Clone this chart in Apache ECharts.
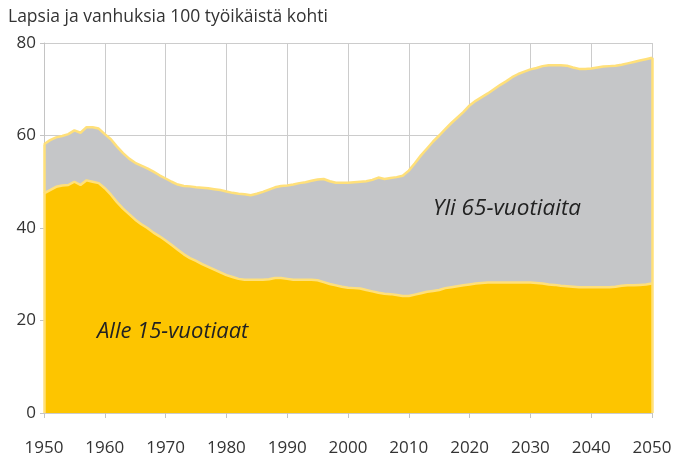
<!DOCTYPE html>
<html>
<head>
<meta charset="utf-8">
<script src="https://cdn.jsdelivr.net/npm/echarts@6/dist/echarts.min.js"></script>
<style>
  html, body { margin: 0; padding: 0; background: #fff; }
  #chart { width: 676px; height: 464px; }
</style>
</head>
<body>
<div id="chart"></div>
<script>
// vuodet 1950-2050
let years = [];
for (let y = 1950; y <= 2050; y++) years.push(y);

// lapsia + vanhuksia yhteensä 100 työikäistä kohti
let total = [
    58.1, 59.0, 59.6, 59.9, 60.3, 61.1, 60.6, 61.8, 61.8, 61.5,
    60.3, 59.2, 57.6, 56.2, 55.0, 54.1, 53.5, 52.9, 52.2, 51.4,
    50.7, 50.0, 49.4, 49.1, 49.0, 48.8, 48.7, 48.6, 48.4, 48.2,
    47.9, 47.6, 47.4, 47.3, 47.1, 47.4, 47.8, 48.3, 48.8, 49.1,
    49.2, 49.4, 49.7, 49.9, 50.2, 50.5, 50.6, 50.1, 49.8, 49.8,
    49.8, 49.9, 50.0, 50.1, 50.4, 50.9, 50.6, 50.8, 51.0, 51.3,
    52.4, 54.0, 55.7, 57.2, 58.7, 60.0, 61.4, 62.7, 63.9, 65.1,
    66.5, 67.5, 68.3, 69.1, 70.0, 70.9, 71.7, 72.6, 73.3, 73.8,
    74.3, 74.6, 75.0, 75.2, 75.2, 75.2, 75.1, 74.7, 74.4, 74.4,
    74.5, 74.7, 74.9, 75.0, 75.1, 75.3, 75.6, 75.9, 76.2, 76.5,
    76.8
];

// alle 15-vuotiaat 100 työikäistä kohti
let under15 = [
    47.5, 48.2, 48.9, 49.2, 49.3, 50.0, 49.3, 50.3, 50.0, 49.7,
    48.6, 47.2, 45.6, 44.2, 43.0, 41.8, 40.8, 40.0, 39.0, 38.2,
    37.3, 36.3, 35.3, 34.3, 33.5, 32.9, 32.2, 31.6, 31.0, 30.4,
    29.8, 29.4, 29.0, 28.8, 28.8, 28.8, 28.8, 28.9, 29.2, 29.2,
    29.0, 28.8, 28.8, 28.8, 28.8, 28.7, 28.3, 27.9, 27.6, 27.3,
    27.1, 27.0, 26.9, 26.6, 26.3, 26.0, 25.8, 25.7, 25.5, 25.3,
    25.3, 25.6, 25.9, 26.2, 26.4, 26.6, 27.0, 27.2, 27.4, 27.6,
    27.8, 28.0, 28.1, 28.2, 28.2, 28.2, 28.2, 28.2, 28.2, 28.2,
    28.2, 28.1, 28.0, 27.8, 27.7, 27.5, 27.4, 27.3, 27.2, 27.2,
    27.2, 27.2, 27.2, 27.2, 27.3, 27.5, 27.6, 27.6, 27.7, 27.8,
    28.0
];

let yTicks = [0, 20, 40, 60, 80];
let halfDecades = [1955, 1965, 1975, 1985, 1995, 2005, 2015, 2025, 2035, 2045];

let chartDom = document.getElementById('chart');
let myChart = echarts.init(chartDom, null, { renderer: 'canvas' });

let font = "'Open Sans', 'Noto Sans', sans-serif";
let edgeYellow = '#ffe07a';

let option = {
    animation: false,
    title: {
        text: 'Lapsia ja vanhuksia 100 työikäistä kohti',
        left: 3,
        top: 3,
        textStyle: {
            fontFamily: font,
            fontSize: 17.5,
            fontWeight: 'normal',
            color: '#333'
        }
    },
    grid: { left: 44, right: 24, top: 43, bottom: 51 },
    xAxis: [
        {
            type: 'value',
            min: 1950,
            max: 2050,
            interval: 10,
            axisLine: { show: false },
            axisTick: { show: true, length: 5, lineStyle: { color: '#c4c4c4' } },
            axisLabel: {
                margin: 27,
                fontFamily: font,
                fontSize: 17,
                color: '#333',
                formatter: function (v) { return String(v); }
            },
            splitLine: { show: true, lineStyle: { color: '#cccccc', width: 1 } }
        },
        {
            type: 'value',
            min: 1950,
            max: 2050,
            position: 'bottom',
            axisLine: { show: false },
            axisLabel: { show: false },
            splitLine: { show: false },
            axisTick: {
                show: true,
                inside: true,
                length: 6,
                customValues: halfDecades,
                lineStyle: { color: '#e6d9a6' }
            }
        }
    ],
    yAxis: {
        type: 'value',
        min: yTicks[0],
        max: yTicks[yTicks.length - 1],
        interval: 20,
        axisLine: { show: true, lineStyle: { color: '#c4c4c4' } },
        axisTick: { show: true, length: 4, lineStyle: { color: '#c4c4c4' } },
        axisLabel: {
            margin: 8,
            fontFamily: font,
            fontSize: 17,
            color: '#333'
        },
        splitLine: { show: true, lineStyle: { color: '#cccccc', width: 1 } }
    },
    series: [
        {
            name: 'Yli 65-vuotiaita',
            type: 'line',
            data: years.map((y, i) => [y, total[i]]),
            symbol: 'none',
            lineStyle: { color: edgeYellow, width: 2.5 },
            areaStyle: { color: '#c5c6c8', opacity: 1 },
            z: 2,
            markLine: {
                silent: true,
                symbol: 'none',
                label: { show: false },
                lineStyle: { color: edgeYellow, width: 2.5, type: 'solid' },
                data: [
                    [{ coord: [years[0], 0] }, { coord: [years[0], total[0]] }],
                    [{ coord: [years[years.length - 1], 0] }, { coord: [years[years.length - 1], total[total.length - 1]] }]
                ]
            }
        },
        {
            name: 'Alle 15-vuotiaat',
            type: 'line',
            data: years.map((y, i) => [y, under15[i]]),
            symbol: 'none',
            lineStyle: { color: edgeYellow, width: 2.5 },
            areaStyle: { color: '#fdc500', opacity: 1 },
            z: 3
        }
    ],
    graphic: [
        {
            type: 'text',
            left: 433,
            top: 197,
            z: 10,
            style: {
                text: 'Yli 65-vuotiaita',
                fontFamily: font,
                fontSize: 22.5,
                fontStyle: 'italic',
                fill: '#222'
            }
        },
        {
            type: 'text',
            left: 97,
            top: 321,
            z: 10,
            style: {
                text: 'Alle 15-vuotiaat',
                fontFamily: font,
                fontSize: 22,
                fontStyle: 'italic',
                fill: '#222'
            }
        }
    ]
};

option && myChart.setOption(option);
</script>
</body>
</html>
